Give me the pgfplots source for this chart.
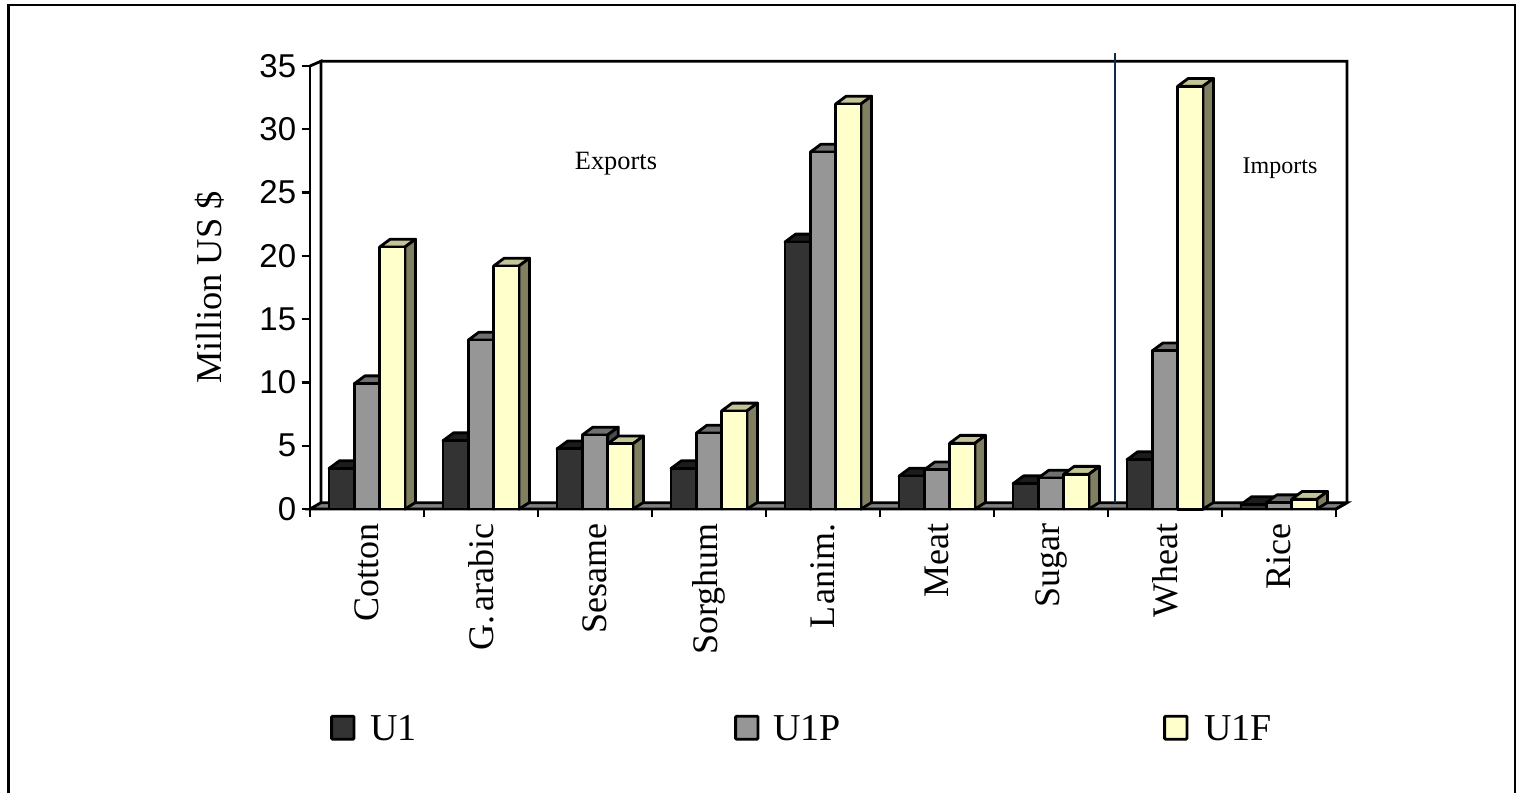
\documentclass[border=0pt]{standalone}
\usepackage{fontspec}
\setmainfont{Liberation Serif}
\newfontfamily\ticksans{Liberation Sans}
\usepackage{pgfplots}
\usepackage{pgfplotstable}
\pgfplotsset{compat=1.18}

% Per-group values in million US $; x is the centre of each commodity group
\pgfplotstableread{
x v
0.5 3.2
1.5 5.4
2.5 4.75
3.5 3.2
4.5 21.1
5.5 2.6
6.5 2.0
7.5 3.9
8.5 0.35
}\tabUone
\pgfplotstableread{
x v
0.5 9.9
1.5 13.35
2.5 5.85
3.5 6.0
4.5 28.2
5.5 3.1
6.5 2.45
7.5 12.5
8.5 0.5
}\tabUoneP
\pgfplotstableread{
x v
0.5 20.7
1.5 19.2
2.5 5.15
3.5 7.75
4.5 32.0
5.5 5.2
6.5 2.75
7.5 33.4
8.5 0.77
}\tabUoneF

\definecolor{barDark}{HTML}{333333}
\definecolor{barDarkShade}{HTML}{1C1C1C}
\definecolor{barGray}{HTML}{969696}
\definecolor{barGrayTop}{HTML}{707070}
\definecolor{barGraySide}{HTML}{4B4B4B}
\definecolor{barYellow}{HTML}{FFFFCC}
\definecolor{barYellowTop}{HTML}{C4C498}
\definecolor{barYellowSide}{HTML}{808060}
\definecolor{floorGray}{HTML}{808080}
\definecolor{divider}{HTML}{0F2A4A}

\pgfdeclareplotmark{nil}{}

% One extruded bar per data point: top, side and front faces in painting order.
% #1 bar shift, #2 front colour, #3 top colour, #4 side colour
\pgfplotsset{
  box bars/.style n args={4}{
    only marks, scatter, mark=nil,
    visualization depends on={\thisrow{v}*6.33 \as \barh},
    scatter/@pre marker code/.code={%
      \begin{scope}[line width=1.4pt, line join=round, draw=black]
        \filldraw[fill=#3] (#1-6.325pt,0pt) -- (#1+6.325pt,0pt) -- (#1+11.6pt,3.9pt) -- (#1-1.05pt,3.9pt) -- cycle;
        \filldraw[fill=#4] (#1+6.325pt,0pt) -- (#1+11.6pt,3.9pt) -- (#1+11.6pt,3.3pt-\barh pt) -- (#1+6.325pt,-\barh pt) -- cycle;
        \filldraw[fill=#2] (#1-6.325pt,0pt) rectangle (#1+6.325pt,-\barh pt);
      \end{scope}
    },
    scatter/@post marker code/.code={},
  },
}

\begin{document}
\begin{tikzpicture}[x=1pt,y=1pt]
  \path[use as bounding box] (0,0) rectangle (758,396.5);
  % outer frame, open along the bottom edge
  \draw[line width=1.2pt, line join=miter] (4.25,0) -- (4.25,394.1) -- (757.4,394.1) -- (757.4,0);

  \begin{axis}[
    at={(155pt,142pt)}, anchor=south west,
    scale only axis, width=513pt, height=221.5pt,
    xmin=0, xmax=9, ymin=0, ymax=35,
    clip=false,
    axis x line*=bottom, axis y line*=left,
    axis line style={line width=1.4pt, black, -},
    tick align=outside, major tick length=4.2pt,
    tick style={line width=1.2pt, black},
    xtick={0,...,9}, xticklabels={,,},
    ytick={0,5,...,35},
    yticklabel style={font=\ticksans\fontsize{16.5}{18}\selectfont, /pgf/number format/assume math mode=true, inner sep=0pt, xshift=-2.5pt},
    extra x ticks={0.5,1.5,...,8.5},
    extra x tick labels={Cotton,G.\hspace{-0.13em} arabic,Sesame,Sorghum,L\hspace{-0.2em} anim.,Meat,Sugar,Wheat,Rice},
    extra x tick style={
      major tick length=0pt,
      xticklabel style={font=\fontsize{18}{20}\selectfont, rotate=90, anchor=east, inner sep=0pt, xshift=-7pt},
    },
    ylabel={Million US \$},
    every axis y label/.style={at={(axis description cs:-0.0975,0.5)}, rotate=90, anchor=center, font=\fontsize{18.2}{20}\selectfont},
  ]
    % floor of the plot box
    \addplot[fill=floorGray, draw=black, line width=1.4pt] coordinates {(0,0) (0.0965,0.5) (9.0965,0.5) (9,0)} -- cycle;
    % back wall outline
    \addplot[black, line width=1.4pt] coordinates {(0,35) (0.0965,35.38) (0.0965,0.5)};
    \addplot[black, line width=1.4pt] coordinates {(0.0965,35.38) (9.0965,35.38) (9.0965,0.5) (9,0)};
    % divider between the exported and imported commodities
    \addplot[divider, line width=0.9pt] coordinates {(7.061,0.5) (7.061,36.0)};

    \addplot[box bars={-12.65pt}{barDark}{barDarkShade}{barDarkShade}] table[x=x,y=v] {\tabUone};
    \addplot[box bars={0pt}{barGray}{barGrayTop}{barGraySide}] table[x=x,y=v] {\tabUoneP};
    \addplot[box bars={12.65pt}{barYellow}{barYellowTop}{barYellowSide}] table[x=x,y=v] {\tabUoneF};

    \node[font=\fontsize{13.2}{15}\selectfont] at (axis cs:2.684,27.25) {Exports};
    \node[font=\fontsize{12}{14}\selectfont] at (axis cs:8.509,26.95) {Imports};
  \end{axis}

  % legend row
  \begin{scope}[line width=1.4pt, rounded corners=0.5pt]
    \filldraw[fill=barDark]   (165.8,26.9) rectangle (177.0,38.4);
    \filldraw[fill=barGray]   (367.8,26.9) rectangle (379.0,38.4);
    \filldraw[fill=barYellow] (582.3,26.9) rectangle (593.5,38.4);
  \end{scope}
  \node[anchor=base west, inner sep=0pt, font=\fontsize{19}{21}\selectfont] at (185,26.5) {U1};
  \node[anchor=base west, inner sep=0pt, font=\fontsize{19}{21}\selectfont] at (386.5,26.5) {U1P};
  \node[anchor=base west, inner sep=0pt, font=\fontsize{19}{21}\selectfont] at (602,26.5) {U1F};
\end{tikzpicture}
\end{document}
